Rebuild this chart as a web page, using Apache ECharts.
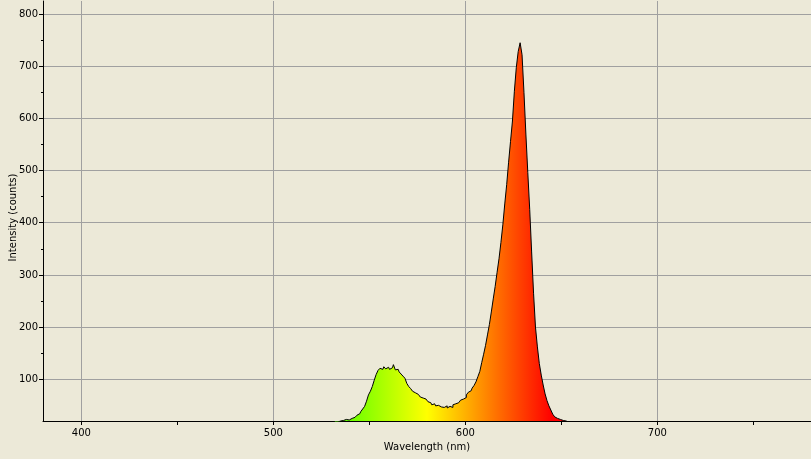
<!DOCTYPE html>
<html>
<head>
<meta charset="utf-8">
<script src="https://cdn.jsdelivr.net/npm/echarts@6/dist/echarts.min.js"></script>
<style>
html,body{margin:0;padding:0;background:#ECE9D8;}
#c{width:811px;height:459px;}
</style>
</head>
<body>
<div id="c"></div>
<script>
// Spectrum: intensity sampled every 1 nm starting at startNm
const startNm = 532;
const stepNm = 1;
const intensity = [
  17, 18, 19, 20, 21, 22, 23, 22, 24, 25,      // 532-541
  27, 29, 31, 34, 38, 43, 48, 58, 70, 77,      // 542-551
  86, 98, 109, 117, 121, 119, 124, 120, 123, 119, // 552-561
  122, 128, 118, 119, 114, 110, 106, 102, 92, 86, // 562-571
  82, 77, 74, 71, 68, 66, 64, 62, 60, 57,      // 572-581
  55, 51, 53, 49, 50, 47, 48, 46, 49, 45,      // 582-591
  48, 46, 51, 53, 55, 57, 60, 62, 65, 70,      // 592-601
  75, 78, 83, 88, 95, 105, 115, 132, 148, 165, // 602-611
  185, 205, 229, 254, 278, 305, 331, 362, 396, 436, // 612-621
  473, 516, 556, 595, 652, 697, 728, 745, 722, 650, // 622-631
  570, 496, 425, 344, 265, 200, 162, 130, 108, 89, // 632-641
  72, 59, 49, 41, 33, 28, 25, 23, 22, 21,      // 642-651
  20, 18, 17                                   // 652-654
];
const xMajorTicks = [400, 500, 600, 700];
const xMinorTicks = [450, 550, 650, 750];
const yMajorTicks = [100, 200, 300, 400, 500, 600, 700, 800];
const yMinorTicks = [150, 250, 350, 450, 550, 650, 750];
// wavelength colour anchors (nm) for the fill
const colorAnchorsNm = [510, 580, 645];
const colorAnchors = ['#00ff00', '#ffff00', '#ff0000'];

const data = intensity.map((v, i) => [startNm + i * stepNm, v]);

const font = 'DejaVu Sans';
const chart = echarts.init(document.getElementById('c'), null, {renderer: 'canvas'});
const baseOpt = {
  animation: false,
  backgroundColor: '#ECE9D8',
  grid: {left: 43, right: 0, top: 1, bottom: 38, containLabel: false, outerBoundsMode: 'none'},
  xAxis: [{
    type: 'value', min: 380, max: 780, position: 'bottom',
    name: 'Wavelength (nm)', nameLocation: 'middle', nameGap: 21, nameMoveOverlap: false,
    nameTextStyle: {color: '#000', fontFamily: font, fontSize: 10},
    axisLine: {show: true, lineStyle: {color: '#000', width: 1}},
    axisTick: {show: true, customValues: xMajorTicks, length: 4, lineStyle: {color: '#000'}},
    axisLabel: {customValues: xMajorTicks, color: '#000', fontFamily: font, fontSize: 10, margin: 7},
    splitLine: {show: true, lineStyle: {color: '#a0a0a0', width: 1}}
  }, {
    type: 'value', min: 380, max: 780, position: 'bottom',
    axisLine: {show: false},
    axisTick: {show: true, customValues: xMinorTicks, length: 4, lineStyle: {color: '#000'}},
    axisLabel: {show: false},
    splitLine: {show: false}
  }],
  yAxis: [{
    type: 'value', min: 20, max: 825, position: 'left',
    name: 'Intensity (counts)', nameLocation: 'middle', nameGap: 25, nameRotate: 90, nameMoveOverlap: false,
    nameTextStyle: {color: '#000', fontFamily: font, fontSize: 10, padding: [0, 13, 0, 0]},
    axisLine: {show: true, lineStyle: {color: '#000', width: 1}},
    axisTick: {show: true, customValues: yMajorTicks, length: 4, lineStyle: {color: '#000'}},
    axisLabel: {customValues: yMajorTicks, color: '#000', fontFamily: font, fontSize: 10, margin: 5},
    splitLine: {show: true, lineStyle: {color: '#a0a0a0', width: 1}}
  }, {
    type: 'value', min: 20, max: 825, position: 'left',
    axisLine: {show: false},
    axisTick: {show: true, customValues: yMinorTicks, length: 2, lineStyle: {color: '#000'}},
    axisLabel: {show: false},
    splitLine: {show: false}
  }],
  series: [{
    type: 'line',
    data: data,
    step: 'middle',
    symbol: 'none',
    clip: true,
    lineStyle: {color: '#000', width: 1},
    areaStyle: {color: '#ff8000', opacity: 1}
  }]
};
chart.setOption(baseOpt);

// Build a wavelength-locked horizontal gradient via the axis scale
const px = colorAnchorsNm.map(nm => chart.convertToPixel({xAxisIndex: 0}, nm));
const span = px[2] - px[0];
const grad = new echarts.graphic.LinearGradient(px[0], 0, px[2], 0,
  colorAnchors.map((c, i) => ({offset: (px[i] - px[0]) / span, color: c})), true);
chart.setOption({series: [{areaStyle: {color: grad, opacity: 1}}]});
</script>
</body>
</html>
